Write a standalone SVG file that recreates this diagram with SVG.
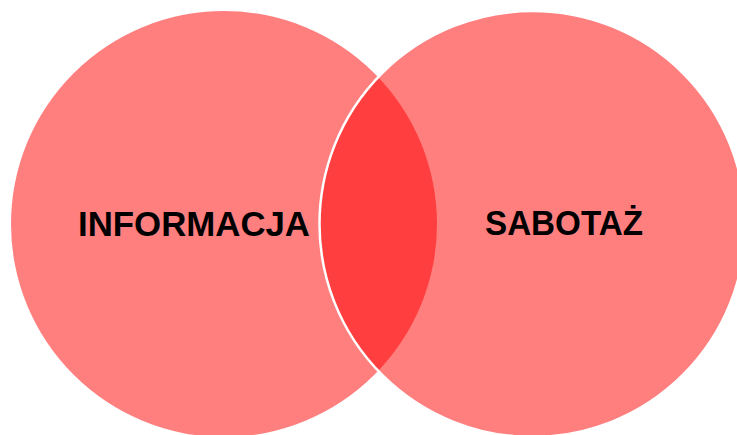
<svg xmlns="http://www.w3.org/2000/svg" width="737" height="435" viewBox="0 0 737 435">
<style>
.c{fill:#FF0000;fill-opacity:0.5}
.t{font-family:"Liberation Sans",Arial,sans-serif;font-weight:bold;font-size:35px;fill:#000;text-anchor:middle}
</style>
<rect width="737" height="435" fill="#fff"/>
<g id="informacja">
<circle class="c" cx="224" cy="224" r="213"/>
</g>
<g id="sabotaz">
<circle class="c" cx="532.5" cy="224" r="213" stroke="#fff" stroke-width="2.5"/>
</g>
<g id="labels">
<text class="t" x="194" y="236" textLength="232" lengthAdjust="spacingAndGlyphs">INFORMACJA</text>
<text class="t" x="564" y="235" textLength="158" lengthAdjust="spacingAndGlyphs">SABOTAŻ</text>
</g>
</svg>
